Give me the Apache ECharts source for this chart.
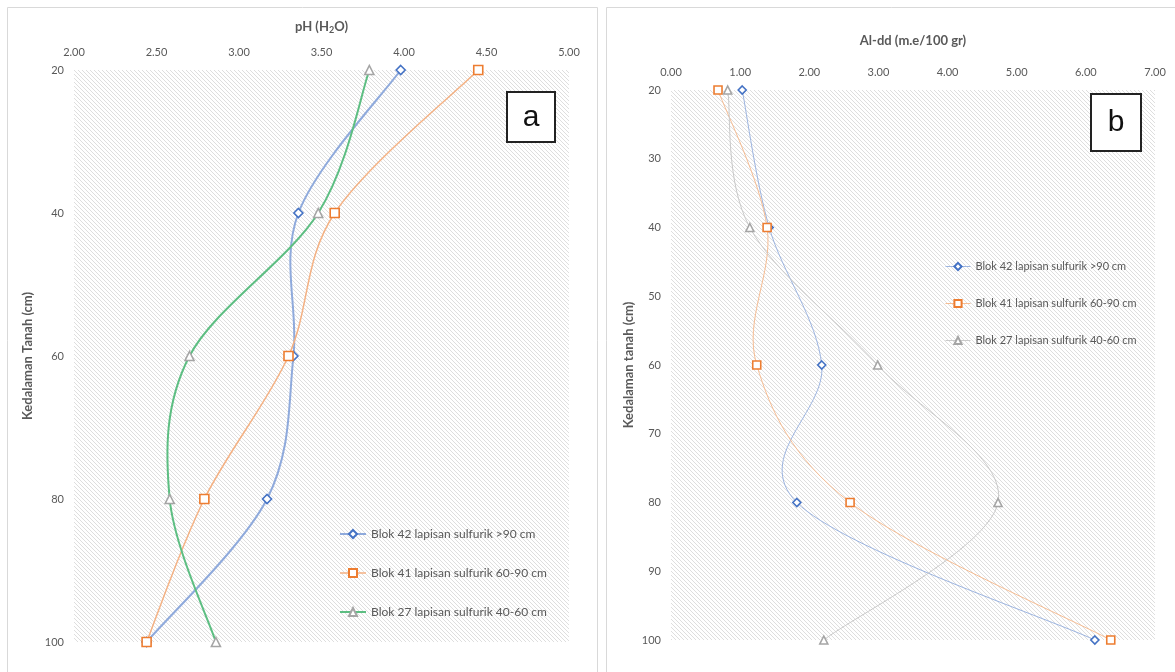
<!DOCTYPE html>
<html><head><meta charset="utf-8">
<script src="https://cdn.jsdelivr.net/npm/echarts@6/dist/echarts.min.js"></script>
<style>
html,body{margin:0;padding:0;background:#fff;}
.c{position:absolute;left:0;top:0;width:1175px;height:672px;}
</style>
</head><body>
<div id="c1" class="c"></div>
<div id="c2" class="c"></div>
<script>
// ---- data ----
const depths = [20, 40, 60, 80, 100];
const seriesNames = ['Blok 42 lapisan sulfurik >90 cm', 'Blok 41 lapisan sulfurik 60-90 cm', 'Blok 27 lapisan sulfurik 40-60 cm'];
const phBlok42 = [3.98, 3.36, 3.33, 3.17, 2.44];
const phBlok41 = [4.45, 3.58, 3.30, 2.79, 2.44];
const phBlok27 = [3.79, 3.48, 2.70, 2.58, 2.86];
const alBlok42 = [1.03, 1.42, 2.18, 1.82, 6.13];
const alBlok41 = [0.68, 1.39, 1.24, 2.59, 6.36];
const alBlok27 = [0.82, 1.14, 2.99, 4.73, 2.21];
const phTicks = [2.0, 5.0, 0.5];
const alTicks = [0, 7, 1];

const FONT = 'Lato, "Open Sans", sans-serif';
const GRAY = '#595959';

function hatch() {
  const c = document.createElement('canvas');
  c.width = 4; c.height = 4;
  const g = c.getContext('2d');
  g.fillStyle = '#ffffff'; g.fillRect(0, 0, 4, 4);
  g.fillStyle = '#dedede';
  for (let i = 0; i < 4; i++) g.fillRect(i, i, 1, 1);
  return c;
}
const pat = {image: hatch(), repeat: 'repeat'};

// smooth curve (Excel-like) drawn through the series' own points, mapped by the axes
function curve(xs, color, lw) {
  return {
    type: 'custom', name: 'curve', silent: true, z: 1,
    data: xs.map((v, i) => [v, depths[i]]),
    renderItem: function (params, api) {
      if (params.dataIndexInside !== 0) return null;
      const n = params.dataInsideLength;
      const p = [];
      for (let i = 0; i < n; i++) p.push(api.coord([api.value(0, i), api.value(1, i)]));
      const kids = [];
      for (let i = 0; i < n - 1; i++) {
        const a = p[Math.max(i - 1, 0)], b = p[i], c = p[i + 1], d = p[Math.min(i + 2, n - 1)];
        kids.push({
          type: 'bezierCurve',
          shape: {x1: b[0], y1: b[1], x2: c[0], y2: c[1],
            cpx1: b[0] + (c[0] - a[0]) / 6, cpy1: b[1] + (c[1] - a[1]) / 6,
            cpx2: c[0] - (d[0] - b[0]) / 6, cpy2: c[1] - (d[1] - b[1]) / 6},
          style: {stroke: color, lineWidth: lw, fill: null}
        });
      }
      return {type: 'group', children: kids};
    }
  };
}

function marks(name, xs, markColor, symbol, size) {
  return {
    type: 'line', name: name, z: 3,
    data: xs.map((v, i) => [v, depths[i]]),
    symbol: symbol, symbolSize: size, showAllSymbol: true,
    lineStyle: {opacity: 0, width: 0},
    itemStyle: {color: '#fff', borderColor: markColor, borderWidth: 1.6},
    emphasis: {disabled: true}
  };
}

function legendItems(colors, widths) {
  return seriesNames.map((n, i) => ({name: n, lineStyle: {color: colors[i], width: widths[i], opacity: 1}}));
}

function baseAxes(grid, xt, xName, yName, yInt, yGap, labSize) {
  return {
    animation: false,
    xAxis: {
      type: 'value', position: 'top', min: xt[0], max: xt[1], interval: xt[2],
      axisLine: {show: false}, axisTick: {show: false}, splitLine: {show: false},
      axisLabel: {color: GRAY, fontSize: labSize, fontFamily: FONT, margin: 12, formatter: v => v.toFixed(2)},
      name: xName, nameLocation: 'middle', nameGap: 35,
      nameTextStyle: {color: GRAY, fontSize: 13, fontWeight: 'bold', fontFamily: FONT,
        rich: {s: {fontSize: 9, fontWeight: 'bold', color: GRAY, fontFamily: FONT, padding: [8, 0, 0, 0]}}}
    },
    yAxis: {
      type: 'value', inverse: true, min: 20, max: 100, interval: yInt,
      axisLine: {show: false}, axisTick: {show: false}, splitLine: {show: false},
      axisLabel: {color: GRAY, fontSize: labSize, fontFamily: FONT, margin: 10},
      name: yName, nameLocation: 'middle', nameGap: yGap, nameRotate: 90,
      nameTextStyle: {color: GRAY, fontSize: 13, fontWeight: 'bold', fontFamily: FONT}
    },
    grid: Object.assign({show: true, backgroundColor: pat, borderWidth: 0}, grid)
  };
}

// ---- left chart ----
const L_LINE = ['#8FAADC', '#F4B183', '#5DBE82'];
const L_W = [2, 1.5, 2];
const c1 = echarts.init(document.getElementById('c1'));
const o1 = baseAxes({left: 74, top: 70, width: 495, height: 572}, phTicks, 'pH (H{s|2}O)', 'Kedalaman Tanah (cm)', 20, 40, 11);
o1.legend = {
  orient: 'vertical', left: 334, top: 523, itemGap: 27, itemWidth: 26, itemHeight: 10,
  textStyle: {color: GRAY, fontSize: 12, fontFamily: FONT},
  data: legendItems(L_LINE, L_W)
};
o1.series = [
  curve(phBlok42, L_LINE[0], L_W[0]),
  curve(phBlok41, L_LINE[1], L_W[1]),
  curve(phBlok27, L_LINE[2], L_W[2]),
  marks(seriesNames[0], phBlok42, '#4472C4', 'diamond', 9),
  marks(seriesNames[1], phBlok41, '#ED7D31', 'rect', 9),
  marks(seriesNames[2], phBlok27, '#A5A5A5', 'triangle', 9)
];
o1.graphic = [
  {type: 'rect', shape: {x: 7.5, y: 7.5, width: 590, height: 700}, style: {fill: 'none', stroke: '#d9d9d9', lineWidth: 1}, z: 0},
  {type: 'rect', shape: {x: 606.5, y: 7.5, width: 600, height: 700}, style: {fill: 'none', stroke: '#d9d9d9', lineWidth: 1}, z: 0},
  {type: 'rect', shape: {x: 507, y: 92, width: 48, height: 50}, style: {fill: '#fff', stroke: '#222', lineWidth: 2}, z: 10},
  {type: 'text', x: 531, y: 118, style: {text: 'a', fontSize: 30, fontFamily: '"Liberation Sans", Arial, sans-serif', fill: '#111', align: 'center', verticalAlign: 'middle'}, z: 11}
];
c1.setOption(o1);

// ---- right chart ----
const R_LINE = ['#9CB4E0', '#F6BC92', '#C9C9C9'];
const R_W = [1, 1, 1];
const c2 = echarts.init(document.getElementById('c2'));
const o2 = baseAxes({left: 671, top: 90, width: 484, height: 550}, alTicks, 'Al-dd (m.e/100 gr)', 'Kedalaman tanah (cm)', 10, 36, 11);
o2.xAxis.nameGap = 43;
o2.legend = {
  orient: 'vertical', left: 940, top: 256, itemGap: 26, itemWidth: 25, itemHeight: 9,
  textStyle: {color: GRAY, fontSize: 11, fontFamily: FONT},
  data: legendItems(R_LINE, R_W)
};
o2.series = [
  curve(alBlok42, R_LINE[0], R_W[0]),
  curve(alBlok41, R_LINE[1], R_W[1]),
  curve(alBlok27, R_LINE[2], R_W[2]),
  marks(seriesNames[0], alBlok42, '#4472C4', 'diamond', 8),
  marks(seriesNames[1], alBlok41, '#ED7D31', 'rect', 8),
  marks(seriesNames[2], alBlok27, '#A5A5A5', 'triangle', 8)
];
o2.graphic = [
  {type: 'rect', shape: {x: 1091, y: 94, width: 50, height: 57}, style: {fill: '#fff', stroke: '#222', lineWidth: 2}, z: 10},
  {type: 'text', x: 1116, y: 123, style: {text: 'b', fontSize: 30, fontFamily: '"Liberation Sans", Arial, sans-serif', fill: '#111', align: 'center', verticalAlign: 'middle'}, z: 11}
];
c2.setOption(o2);
</script>
</body></html>
